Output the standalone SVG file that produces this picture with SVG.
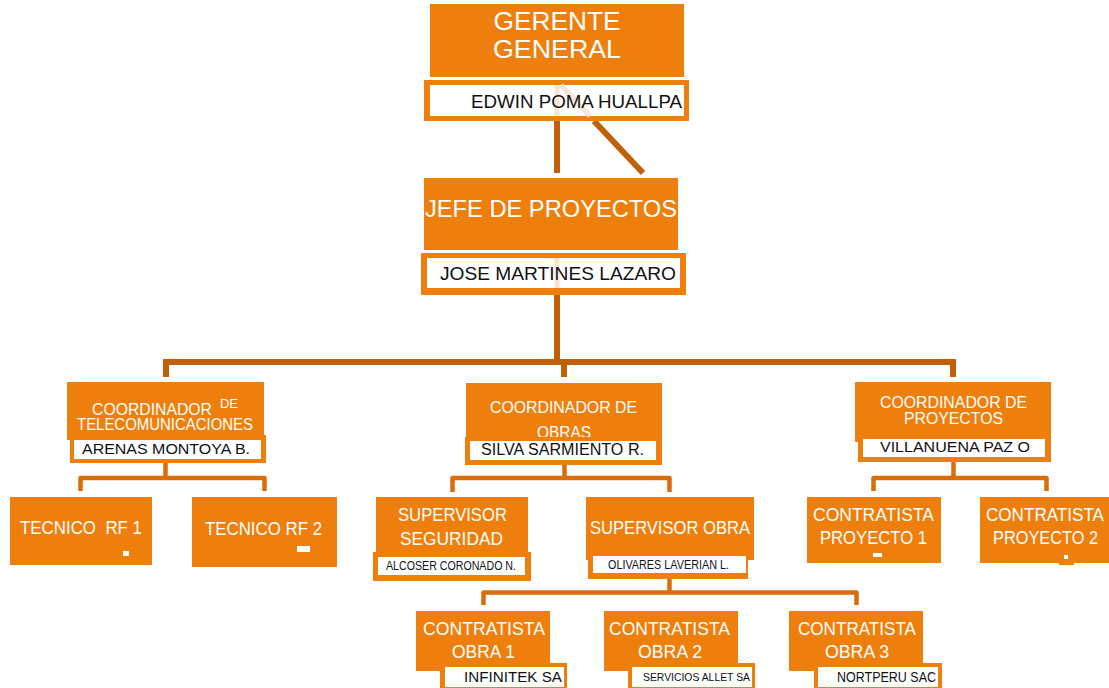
<svg xmlns="http://www.w3.org/2000/svg" width="1109" height="688" viewBox="0 0 1109 688">
<style>
.b{fill:#EE7F0C}
.w{fill:#FFFFFF}
.t{fill:#FFFFFF;font-family:"Liberation Sans",Arial,sans-serif}
.n{fill:#111111;font-family:"Liberation Sans",Arial,sans-serif}
.c1{stroke:#C0600A;stroke-width:6;fill:none}
.c2{stroke:#D96D0A;stroke-width:4.5;fill:none;stroke-linejoin:round}
.f{stroke:#F7E6D6;stroke-width:5;fill:none}
</style>
<rect width="1109" height="688" fill="#FFFFFF"/>
<g id="connectors">
<line class="c1" x1="557" y1="121" x2="557" y2="173"/>
<line class="c1" x1="594" y1="121" x2="643" y2="173"/>
<line class="c1" x1="557" y1="295" x2="557" y2="362"/>
<path class="c1" d="M166 377 V362 H953 V377 M564 362 V377"/>
<path class="c2" d="M165.5 463 V478 M80.5 491 V478 H264.5 V491"/>
<path class="c2" d="M564.5 465 V478 M452.5 492 V478 H669.5 V492"/>
<path class="c2" d="M953.5 462 V478 M873.5 491 V478 H1046.5 V491"/>
<path class="c2" d="M669.5 579 V592.5 M483.5 605 V592.5 H856.5 V605"/>
</g>
<g id="gerente">
<rect class="b" x="430" y="4" width="254" height="73"/>
<text class="t" x="557" y="30" font-size="26" text-anchor="middle" textLength="127" lengthAdjust="spacingAndGlyphs">GERENTE</text>
<text class="t" x="557" y="58" font-size="26" text-anchor="middle" textLength="128" lengthAdjust="spacingAndGlyphs">GENERAL</text>
<rect class="b" x="424" y="80" width="265" height="41"/>
<rect class="w" x="430" y="85" width="254" height="31"/>
<line class="f" x1="557" y1="85" x2="557" y2="116"/>
<line class="f" x1="561" y1="85" x2="590" y2="116"/>
<text class="n" x="471" y="108" font-size="18" textLength="211" lengthAdjust="spacingAndGlyphs">EDWIN POMA HUALLPA</text>
</g>
<g id="jefe">
<rect class="b" x="424" y="178" width="254" height="72"/>
<text class="t" x="425" y="217" font-size="24" textLength="252" lengthAdjust="spacingAndGlyphs">JEFE DE PROYECTOS</text>
<rect class="b" x="421" y="253" width="265" height="42"/>
<rect class="w" x="427" y="258" width="253" height="30"/>
<line class="f" x1="557" y1="258" x2="557" y2="288"/>
<text class="n" x="440" y="280" font-size="19" textLength="236" lengthAdjust="spacingAndGlyphs">JOSE MARTINES LAZARO</text>
</g>
<g id="coord-telecom">
<rect class="b" x="67" y="382" width="197" height="58"/>
<text class="t" x="92" y="415" font-size="16" textLength="120" lengthAdjust="spacingAndGlyphs">COORDINADOR</text>
<text class="t" x="220" y="408" font-size="13" textLength="18" lengthAdjust="spacingAndGlyphs">DE</text>
<text class="t" x="77" y="430" font-size="16" textLength="176" lengthAdjust="spacingAndGlyphs">TELECOMUNICACIONES</text>
<rect class="b" x="70" y="435" width="196" height="28"/>
<rect class="w" x="74" y="440" width="187" height="19"/>
<text class="n" x="82" y="454" font-size="15.5" textLength="168" lengthAdjust="spacingAndGlyphs">ARENAS MONTOYA B.</text>
</g>
<g id="tecnico-rf1">
<rect class="b" x="10" y="497" width="142" height="68"/>
<text class="t" x="20" y="534" font-size="19" textLength="122" lengthAdjust="spacingAndGlyphs" xml:space="preserve">TECNICO  RF 1</text>
<rect class="w" x="123" y="551" width="6" height="5"/>
</g>
<g id="tecnico-rf2">
<rect class="b" x="192" y="497" width="145" height="70"/>
<text class="t" x="205" y="535" font-size="19" textLength="117" lengthAdjust="spacingAndGlyphs">TECNICO RF 2</text>
<rect class="w" x="297" y="546" width="13" height="6"/>
</g>
<g id="coord-obras">
<rect class="b" x="466" y="383" width="196" height="57"/>
<text class="t" x="490" y="413" font-size="16" textLength="147" lengthAdjust="spacingAndGlyphs">COORDINADOR DE</text>
<text class="t" x="537" y="438" font-size="16" textLength="54" lengthAdjust="spacingAndGlyphs">OBRAS</text>
<rect class="b" x="465" y="437" width="197" height="28"/>
<rect class="w" x="470" y="441" width="186" height="19"/>
<text class="n" x="481" y="455" font-size="16" textLength="163" lengthAdjust="spacingAndGlyphs">SILVA SARMIENTO R.</text>
</g>
<g id="supervisor-seguridad">
<rect class="b" x="376" y="497" width="152" height="58"/>
<text class="t" x="398" y="521" font-size="19" textLength="109" lengthAdjust="spacingAndGlyphs">SUPERVISOR</text>
<text class="t" x="400" y="545" font-size="19" textLength="103" lengthAdjust="spacingAndGlyphs">SEGURIDAD</text>
<rect class="b" x="373" y="552" width="158" height="29"/>
<rect class="w" x="378" y="557" width="147" height="18"/>
<text class="n" x="386" y="570" font-size="12.5" textLength="130" lengthAdjust="spacingAndGlyphs">ALCOSER CORONADO N.</text>
</g>
<g id="supervisor-obra">
<rect class="b" x="586" y="497" width="168" height="63"/>
<text class="t" x="590" y="534" font-size="19" textLength="160" lengthAdjust="spacingAndGlyphs">SUPERVISOR OBRA</text>
<rect class="b" x="588" y="553" width="160" height="26"/>
<rect class="w" x="593" y="556" width="153" height="17"/>
<text class="n" x="608" y="569" font-size="12.5" textLength="121" lengthAdjust="spacingAndGlyphs">OLIVARES LAVERIAN L.</text>
</g>
<g id="coord-proyectos">
<rect class="b" x="855" y="382" width="196" height="60"/>
<text class="t" x="880" y="408" font-size="16" textLength="147" lengthAdjust="spacingAndGlyphs">COORDINADOR DE</text>
<text class="t" x="904" y="424" font-size="16" textLength="99" lengthAdjust="spacingAndGlyphs">PROYECTOS</text>
<rect class="b" x="858" y="437" width="193" height="25"/>
<rect class="w" x="863" y="439" width="182" height="18"/>
<text class="n" x="880" y="452" font-size="15.5" textLength="150" lengthAdjust="spacingAndGlyphs">VILLANUENA PAZ O</text>
</g>
<g id="contratista-proyecto1">
<rect class="b" x="807" y="497" width="134" height="66"/>
<text class="t" x="813" y="521" font-size="19" textLength="121" lengthAdjust="spacingAndGlyphs">CONTRATISTA</text>
<text class="t" x="820" y="544" font-size="19" textLength="107" lengthAdjust="spacingAndGlyphs">PROYECTO 1</text>
<rect class="w" x="873" y="553" width="9" height="4"/>
</g>
<g id="contratista-proyecto2">
<rect class="b" x="980" y="497" width="129" height="66"/>
<rect class="b" x="1059" y="560" width="15" height="5"/>
<text class="t" x="986" y="521" font-size="19" textLength="118" lengthAdjust="spacingAndGlyphs">CONTRATISTA</text>
<text class="t" x="993" y="544" font-size="19" textLength="105" lengthAdjust="spacingAndGlyphs">PROYECTO 2</text>
<rect class="w" x="1064" y="555" width="4" height="4"/>
</g>
<g id="contratista-obra1">
<rect class="b" x="416" y="611" width="134" height="60"/>
<text class="t" x="423" y="635" font-size="19" textLength="122" lengthAdjust="spacingAndGlyphs">CONTRATISTA</text>
<text class="t" x="452" y="658" font-size="19" textLength="63" lengthAdjust="spacingAndGlyphs">OBRA 1</text>
<rect class="b" x="440" y="663" width="127" height="28"/>
<rect class="w" x="445" y="667" width="119" height="20"/>
<text class="n" x="464" y="682" font-size="15" textLength="98" lengthAdjust="spacingAndGlyphs">INFINITEK SA</text>
</g>
<g id="contratista-obra2">
<rect class="b" x="604" y="611" width="134" height="60"/>
<text class="t" x="609" y="635" font-size="19" textLength="121" lengthAdjust="spacingAndGlyphs">CONTRATISTA</text>
<text class="t" x="638" y="658" font-size="19" textLength="64" lengthAdjust="spacingAndGlyphs">OBRA 2</text>
<rect class="b" x="628" y="663" width="127" height="28"/>
<rect class="w" x="632" y="667" width="120" height="20"/>
<text class="n" x="643" y="681" font-size="11.5" textLength="107" lengthAdjust="spacingAndGlyphs">SERVICIOS ALLET SA</text>
</g>
<g id="contratista-obra3">
<rect class="b" x="789" y="611" width="134" height="60"/>
<text class="t" x="798" y="635" font-size="19" textLength="118" lengthAdjust="spacingAndGlyphs">CONTRATISTA</text>
<text class="t" x="825" y="658" font-size="19" textLength="64" lengthAdjust="spacingAndGlyphs">OBRA 3</text>
<rect class="b" x="814" y="663" width="128" height="28"/>
<rect class="w" x="818" y="667" width="120" height="20"/>
<text class="n" x="837" y="682" font-size="15" textLength="99" lengthAdjust="spacingAndGlyphs">NORTPERU SAC</text>
</g>
</svg>
